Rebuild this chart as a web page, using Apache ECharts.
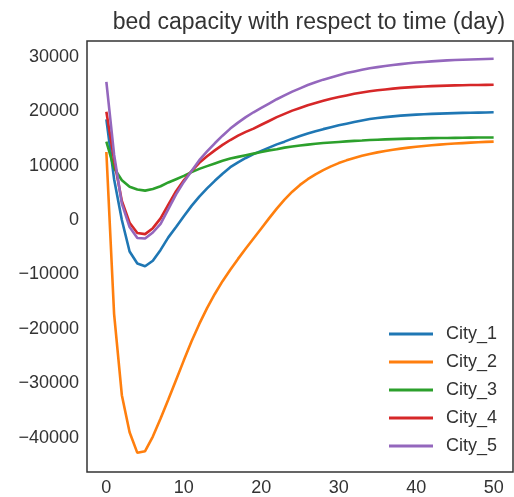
<!DOCTYPE html>
<html>
<head>
<meta charset="utf-8">
<script src="https://cdn.jsdelivr.net/npm/echarts@6/dist/echarts.min.js"></script>
<style>
html,body{margin:0;padding:0;background:#fff;}
#c{width:514px;height:497px;}
</style>
</head>
<body>
<div id="c"></div>
<script>
const days = Array.from({length: 51}, (_, i) => i);
const seriesNames = ['City_1', 'City_2', 'City_3', 'City_4', 'City_5'];
const city1 = [18500, 7500, 0, -5800, -8000, -8500, -7500, -5500, -3200, -1300,
  700, 2600, 4300, 5800, 7200, 8500, 9700, 10600, 11400, 12100,
  12700, 13300, 13900, 14400, 14950, 15450, 15900, 16300, 16700, 17050,
  17400, 17700, 18000, 18300, 18550, 18750, 18900, 19050, 19180, 19280,
  19370, 19440, 19500, 19550, 19600, 19640, 19680, 19710, 19740, 19770, 19800];
const city2 = [12500, -17300, -32200, -39000, -42800, -42500, -39800, -36500, -33000, -29400,
  -25800, -22300, -19100, -16200, -13600, -11250, -9150, -7150, -5250, -3400,
  -1550, 300, 2100, 3750, 5200, 6450, 7500, 8400, 9180, 9860,
  10460, 10960, 11400, 11790, 12130, 12430, 12690, 12920, 13120, 13300,
  13460, 13605, 13735, 13850, 13955, 14050, 14135, 14213, 14285, 14351, 14411];
const city3 = [14400, 9500, 7300, 6100, 5600, 5400, 5700, 6200, 6900, 7500,
  8100, 8800, 9400, 9900, 10400, 10900, 11300, 11600, 11900, 12200,
  12500, 12800, 13000, 13300, 13500, 13700, 13850, 14000, 14150, 14250,
  14350, 14450, 14550, 14620, 14700, 14760, 14820, 14870, 14910, 14950,
  14980, 15010, 15040, 15060, 15080, 15100, 15120, 15140, 15150, 15160, 15170];
const city4 = [19900, 11000, 3500, -500, -2400, -2600, -1500, 300, 2800, 5300,
  7300, 9000, 10500, 11700, 12800, 13800, 14700, 15500, 16200, 16800,
  17500, 18200, 18900, 19500, 20100, 20600, 21100, 21500, 21900, 22300,
  22600, 22900, 23200, 23450, 23650, 23850, 24000, 24150, 24280, 24380,
  24470, 24550, 24610, 24660, 24700, 24740, 24770, 24800, 24820, 24840, 24860];
const city5 = [25400, 12000, 3000, -1300, -3300, -3400, -2300, -700, 2000, 4700,
  7000, 9000, 11000, 12600, 14100, 15500, 16800, 17900, 18900, 19800,
  20600, 21400, 22200, 22900, 23600, 24200, 24800, 25300, 25800, 26200,
  26600, 27000, 27300, 27600, 27900, 28100, 28300, 28500, 28650, 28800,
  28950, 29050, 29150, 29250, 29330, 29400, 29450, 29500, 29550, 29600, 29650];
const xTicks = [0, 10, 20, 30, 40, 50];
const yTicks = [-40000, -30000, -20000, -10000, 0, 10000, 20000, 30000];
const titleText = 'bed capacity with respect to time (day)';

const allSeries = [city1, city2, city3, city4, city5];
const colors = ['#1f77b4', '#ff7f0e', '#2ca02c', '#d62728', '#9467bd'];
const FONT = '"Liberation Sans", Arial, sans-serif';
const TXT = '#333';

const chart = echarts.init(document.getElementById('c'), null, {renderer: 'canvas'});
chart.setOption({
  animation: false,
  backgroundColor: '#fff',
  color: colors,
  title: {
    text: titleText,
    left: 304, textAlign: 'center', top: 6,
    textStyle: {fontFamily: FONT, fontSize: 23, fontWeight: 'normal', color: TXT}
  },
  legend: {
    orient: 'vertical',
    left: 384, top: 320,
    icon: 'rect',
    itemWidth: 44, itemHeight: 3,
    itemGap: 10,
    textStyle: {fontFamily: FONT, fontSize: 18, color: TXT, padding: [0, 0, 0, 8]},
    data: seriesNames
  },
  grid: {
    left: 87, top: 41, right: 1, bottom: 25,
    show: true, borderColor: '#333', borderWidth: 1.5, backgroundColor: 'transparent'
  },
  xAxis: {
    type: 'value', min: -2.5, max: 52.5,
    axisLine: {show: false}, axisTick: {show: false}, splitLine: {show: false},
    axisLabel: {customValues: xTicks, margin: 7, fontFamily: FONT, fontSize: 18, color: TXT}
  },
  yAxis: {
    type: 'value', min: -46320, max: 32900,
    axisLine: {show: false}, axisTick: {show: false}, splitLine: {show: false},
    axisLabel: {customValues: yTicks, margin: 8, fontFamily: FONT, fontSize: 18, color: TXT,
      formatter: v => String(v).replace('-', '\u2212')}
  },
  series: allSeries.map((arr, i) => ({
    name: seriesNames[i],
    type: 'line',
    data: days.map((d, j) => [d, arr[j]]),
    showSymbol: false,
    lineStyle: {width: 2.6, color: colors[i]},
    itemStyle: {color: colors[i]}
  }))
});
</script>
</body>
</html>
